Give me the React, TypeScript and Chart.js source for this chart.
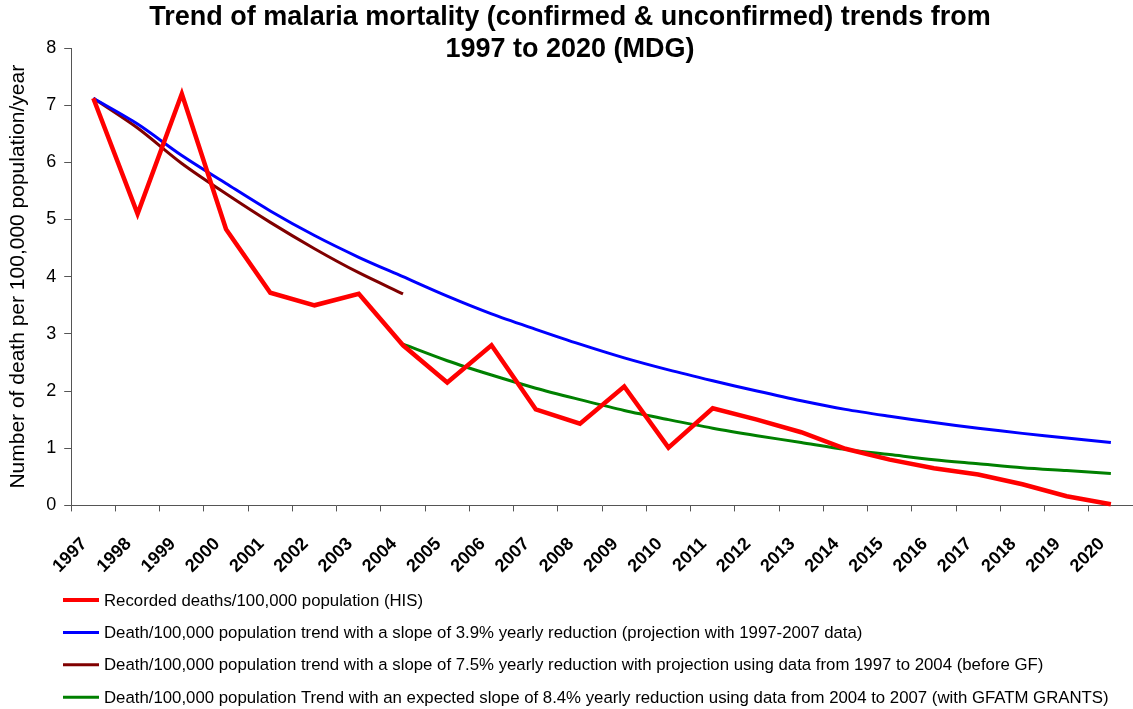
import React, { useEffect, useRef } from "react";
import { Chart, registerables } from "chart.js";

Chart.register(...registerables);

const years = [
  "1997", "1998", "1999", "2000", "2001", "2002", "2003", "2004",
  "2005", "2006", "2007", "2008", "2009", "2010", "2011", "2012",
  "2013", "2014", "2015", "2016", "2017", "2018", "2019", "2020",
];

const recorded = [
  7.12, 5.1, 7.2, 4.83, 3.72, 3.5, 3.7, 2.8,
  2.15, 2.8, 1.68, 1.43, 2.08, 1.01, 1.7, 1.5,
  1.28, 0.99, 0.8, 0.65, 0.54, 0.37, 0.16, 0.02,
];

const trend1997to2007 = [
  7.12, 6.67, 6.12, 5.63, 5.15, 4.72, 4.34, 4.0,
  3.66, 3.35, 3.08, 2.82, 2.58, 2.37, 2.18, 2.0,
  1.83, 1.68, 1.56, 1.45, 1.35, 1.26, 1.18, 1.1,
];

const trendBeforeGF = [
  7.12, 6.6, 5.98, 5.45, 4.95, 4.49, 4.07, 3.7,
  null, null, null, null, null, null, null, null,
  null, null, null, null, null, null, null, null,
];

const trendWithGFATM = [
  null, null, null, null, null, null, null, 2.82,
  2.53, 2.28, 2.05, 1.85, 1.66, 1.5, 1.35, 1.22,
  1.1, 0.98, 0.89, 0.8, 0.73, 0.66, 0.61, 0.56,
];

const seriesLabels = [
  "Recorded deaths/100,000 population (HIS)",
  "Death/100,000 population trend with a slope of 3.9% yearly reduction (projection with 1997-2007 data)",
  "Death/100,000 population trend with a slope of 7.5% yearly reduction with projection using data from 1997 to 2004 (before GF)",
  "Death/100,000 population Trend with an expected slope of 8.4% yearly reduction using data from 2004 to 2007 (with GFATM GRANTS)",
];

const titleLines = [
  "Trend of malaria mortality (confirmed & unconfirmed) trends from",
  "1997 to 2020 (MDG)",
];

const yAxisTitle = "Number of death per 100,000 population/year";

const FONT = "Arial, 'Liberation Sans', Helvetica, sans-serif";

const titlePlugin = {
  id: "customTitle",
  afterDraw(chart: any) {
    const ctx = chart.ctx;
    ctx.save();
    ctx.fillStyle = "#000";
    ctx.font = `bold 27px ${FONT}`;
    ctx.textAlign = "center";
    ctx.textBaseline = "alphabetic";
    ctx.fillText(titleLines[0], 570, 25);
    ctx.fillText(titleLines[1], 570, 57);
    ctx.restore();
  },
};

const legendPlugin = {
  id: "customLegend",
  afterDraw(chart: any) {
    const ctx = chart.ctx;
    ctx.save();
    ctx.font = `16.8px ${FONT}`;
    ctx.textBaseline = "middle";
    ctx.textAlign = "left";
    chart.data.datasets.forEach((ds: any, i: number) => {
      const y = 600 + i * 32.4;
      ctx.strokeStyle = ds.borderColor;
      ctx.lineWidth = i === 0 ? 4 : 3;
      ctx.beginPath();
      ctx.moveTo(63, y);
      ctx.lineTo(99, y);
      ctx.stroke();
      ctx.fillStyle = "#000";
      ctx.fillText(ds.label, 104, y + 1);
    });
    ctx.restore();
  },
};

export default function App() {
  const canvasRef = useRef<HTMLCanvasElement | null>(null);

  useEffect(() => {
    if (!canvasRef.current) return;
    const chart = new Chart(canvasRef.current, {
      type: "line",
      data: {
        labels: years,
        datasets: [
          {
            label: seriesLabels[0],
            data: recorded,
            borderColor: "#FF0000",
            backgroundColor: "#FF0000",
            borderWidth: 4.5,
            pointRadius: 0,
            tension: 0,
            clip: false,
          },
          {
            label: seriesLabels[1],
            data: trend1997to2007,
            borderColor: "#0000FF",
            backgroundColor: "#0000FF",
            borderWidth: 3,
            pointRadius: 0,
            tension: 0.3,
          },
          {
            label: seriesLabels[2],
            data: trendBeforeGF,
            borderColor: "#800000",
            backgroundColor: "#800000",
            borderWidth: 3,
            pointRadius: 0,
            tension: 0.3,
          },
          {
            label: seriesLabels[3],
            data: trendWithGFATM,
            borderColor: "#008000",
            backgroundColor: "#008000",
            borderWidth: 3,
            pointRadius: 0,
            tension: 0.3,
          },
        ],
      },
      options: {
        animation: false,
        responsive: false,
        maintainAspectRatio: false,
        layout: { padding: { top: 48, left: 6, right: 0, bottom: 110 } },
        plugins: {
          legend: { display: false },
          title: { display: false },
          tooltip: { enabled: false },
        },
        scales: {
          x: {
            offset: true,
            afterFit(scale: any) {
              scale.paddingRight = 0;
            },
            grid: {
              display: true,
              offset: true,
              drawOnChartArea: false,
              drawTicks: true,
              tickLength: 6,
              color: "#555",
            },
            border: { color: "#555", width: 1 },
            ticks: {
              color: "#000",
              font: { family: FONT, size: 18, weight: "bold" },
              minRotation: 45,
              maxRotation: 45,
              autoSkip: false,
              padding: 22,
              labelOffset: -9,
            },
          },
          y: {
            min: 0,
            max: 8,
            ticks: {
              stepSize: 1,
              color: "#000",
              font: { family: FONT, size: 18 },
              padding: 8,
            },
            grid: {
              display: true,
              drawOnChartArea: false,
              drawTicks: true,
              tickLength: 7,
              color: "#555",
            },
            border: { color: "#555", width: 1 },
            title: {
              display: true,
              text: yAxisTitle,
              color: "#000",
              font: { family: FONT, size: 21 },
              padding: { top: 0, bottom: 7 },
            },
          },
        },
      },
      plugins: [titlePlugin, legendPlugin],
    });
    return () => chart.destroy();
  }, []);

  return (
    <div style={{ position: "fixed", left: 0, top: 0, width: 1133, height: 709, background: "#fff" }}>
      <canvas ref={canvasRef} width={1133} height={709} style={{ width: 1133, height: 709 }} />
    </div>
  );
}
